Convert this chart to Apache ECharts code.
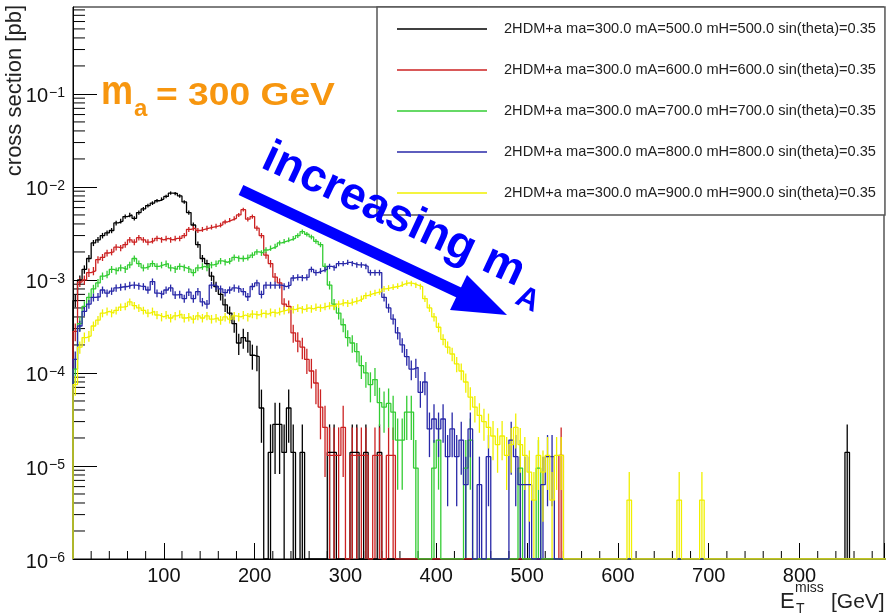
<!DOCTYPE html>
<html><head><meta charset="utf-8">
<script src="https://cdn.jsdelivr.net/npm/echarts@6/dist/echarts.min.js"></script>
<style>html,body{margin:0;padding:0;background:#fff}#c{width:887px;height:613px}</style>
</head><body><div id="c"></div>
<script>
// ---------------- DATA (cross section per 5 GeV bin, in units of 1e-5 pb) ----------------
const BIN = 5;            // GeV bin width
const UNIT = 1e-5;        // pb per unit below
const XMAX = 893, YMIN = 1e-6, YMAX = 0.86;

const names = [
  '2HDM+a ma=300.0 mA=500.0 mH=500.0 sin(theta)=0.35',
  '2HDM+a ma=300.0 mA=600.0 mH=600.0 sin(theta)=0.35',
  '2HDM+a ma=300.0 mA=700.0 mH=700.0 sin(theta)=0.35',
  '2HDM+a ma=300.0 mA=800.0 mH=800.0 sin(theta)=0.35',
  '2HDM+a ma=300.0 mA=900.0 mH=900.0 sin(theta)=0.35'
];
const colors = ['#000000', '#cc2222', '#33cc33', '#2828a8', '#f0f000'];
// per-event weight of each sample (units of 1e-5 pb), sets the sqrt(N) error bars
const eventWeight = [1.4, 1.3, 0.95, 0.63, 0.43];

const black = [
  60,100,130,170,250,270,300,320,340,410,
  430,480,500,460,530,580,630,670,710,740,
  790,860,850,800,690,530,390,240,170,150,
  110,85,70,54,44,34,21,24,22,15.5,
  15,4.2,0,1.4,2.8,2.8,1.4,4.2,1.4,0,
  1.4,0,0,0,0,0,1.4,1.4,0,0,
  0,1.4,1.4,0,1.4,0,0,1.4
];
const blackTail = [[850, 1.4]];

const red = [
  28,95,100,120,125,165,175,195,200,225,
  220,240,270,255,285,270,255,265,280,270,
  280,270,280,280,300,350,360,340,350,360,
  370,380,390,420,440,460,500,570,450,480,
  360,300,185,150,107,93,55,52,27,22,
  19,14,10.5,7.8,4.3,2.6,1.3,1.3,1.3,2.6,
  0,1.3,1.3,1.3,1.3,0,1.3,1.3,0,1.3,1.3
];
const redTail = [[535, 1.3]];

const green = [
  11,34,52,65,80,93,110,115,130,125,
  135,130,145,170,150,135,140,150,140,145,
  150,135,130,140,135,130,120,135,140,135,
  145,150,160,155,160,175,170,170,175,185,
  200,195,210,220,230,250,260,270,280,300,
  330,310,290,260,240,140,88,55,44,33,
  24,21,17,12,10,7.5,8.5,4.8,4.3,4.7,
  3.8,1.9,1.9,3.8,3.8,0.95,0,0,0,0.95,
  1.9,0,0,0,0,0,0.95,1.9,0,0,
  0,0,0,0,0,0,0,0,0.95,0,
  0,0,0.95
];
const greenTail = [];

const blue = [
  14,32,46,55,65,66,78,72,76,82,
  84,85,88,88,86,85,78,96,72,70,
  78,82,69,70,63,74,63,75,58,55,
  88,85,80,73,78,82,80,75,66,85,
  93,70,88,88,88,88,85,88,105,107,
  105,107,130,120,125,130,140,135,150,150,
  155,150,145,145,140,120,120,120,65,50,
  38,27,20,15,11,11.5,6.2,8.0,2.5,3.2,
  2.5,3.2,1.26,2.5,1.26,1.9,0.63,2.5,0,0.63,
  0,1.26,0,0,0,0,1.9,1.26,0.63,0.63,
  0.63,0,0,0.63,1.26,1.26
];
const blueTail = [];

const yellow = [
  7.5,19,24,25,32,37,44,46,44,47,
  51,52,58,53,50,47,44,46,42,40,
  42,39,41,43,39,40,38,41,39,41,
  38,39,37,40,38,41,40,42,40,43,
  42,44,43,45,44,46,47,49,48,50,
  48,50,49,51,50,52,53,52,55,57,
  56,58,60,63,68,71,73,75,80,82,
  84,86,90,93,92,88,85,63,50,40,
  31,23,19,16,12.5,10.5,8.0,5.5,4.3,3.5,
  3.0,2.6,2.1,1.7,2.1,1.3,1.7,2.6,1.7,1.3,
  0.86,0.43,1.3,0.86,1.3,0.43,1.3,1.3
];
const yellowTail = [[610, 0.43], [665, 0.43], [690, 0.43]];

const xTickLabels = [100, 200, 300, 400, 500, 600, 700, 800];

// ---------------- BUILD ----------------
const F = '"Liberation Sans", Arial, sans-serif';
const samples = [[black, blackTail], [red, redTail], [green, greenTail], [blue, blueTail], [yellow, yellowTail]];
const NB = Math.ceil(XMAX / BIN);

function binArray(vals, tail) {
  const a = new Array(NB).fill(0);
  vals.forEach((v, i) => { a[i] = v; });
  tail.forEach(([x, v]) => { a[Math.round(x / BIN)] = v; });
  return a;
}
function stepPoints(arr) {
  const pts = [[0, YMIN]];
  arr.forEach((v, i) => {
    const y = v > 0 ? v * UNIT : YMIN;
    pts.push([i * BIN, y], [(i + 1) * BIN, y]);
  });
  return pts;
}
function errPoints(arr, w) {
  const out = [];
  arr.forEach((v, i) => {
    if (v <= 0) return;
    const e = Math.sqrt(v * w);
    out.push([i * BIN + BIN / 2, v * UNIT, Math.max((v - e) * UNIT, YMIN), (v + e) * UNIT]);
  });
  return out;
}

const series = [];
// minor ticks (ROOT style, inside)
const xMinor = [];
for (let t = 20; t < XMAX; t += 20) if (t % 100 !== 0) xMinor.push([t, YMIN]);
const yMinor = [];
for (let n = -6; n <= -1; n++) for (let k = 2; k <= 9; k++) { const v = k * Math.pow(10, n); if (v < YMAX) yMinor.push([0, v]); }
series.push({
  type: 'custom', silent: true, data: xMinor, z: 1,
  renderItem: (p, api) => { const c = api.coord([api.value(0), api.value(1)]);
    return { type: 'line', shape: { x1: c[0], y1: c[1], x2: c[0], y2: c[1] - 8 }, style: { stroke: '#000', lineWidth: 1 } }; }
});
series.push({
  type: 'custom', silent: true, data: yMinor, z: 1,
  renderItem: (p, api) => { const c = api.coord([api.value(0), api.value(1)]);
    return { type: 'line', shape: { x1: c[0], y1: c[1], x2: c[0] + 12, y2: c[1] }, style: { stroke: '#000', lineWidth: 1 } }; }
});

samples.forEach(([vals, tail], k) => {
  const arr = binArray(vals, tail);
  series.push({
    name: names[k], type: 'line', data: stepPoints(arr), showSymbol: false, symbol: 'none',
    color: colors[k], lineStyle: { color: colors[k], width: 1.3 }, clip: true, silent: true, z: 2
  });
  const col = colors[k];
  series.push({
    type: 'custom', data: errPoints(arr, eventWeight[k]), silent: true, z: 2, clip: true,
    renderItem: (p, api) => {
      const x = api.value(0);
      const a = api.coord([x, api.value(2)]), b = api.coord([x, api.value(3)]);
      return { type: 'line', shape: { x1: a[0], y1: a[1], x2: b[0], y2: b[1] }, style: { stroke: col, lineWidth: 1.3 } };
    }
  });
});

const option = {
  animation: false,
  backgroundColor: '#fff',
  grid: { left: 73, right: 2, top: 7, bottom: 54, show: true, borderColor: '#000', borderWidth: 1, backgroundColor: 'transparent' },
  xAxis: {
    type: 'value', min: 0, max: XMAX, interval: 100,
    axisLine: { show: true, onZero: false, lineStyle: { color: '#000', width: 1 } },
    axisTick: { show: true, inside: true, length: 16, lineStyle: { color: '#000', width: 1 } },
    axisLabel: { margin: 7, fontSize: 20, fontFamily: F, color: '#111',
      formatter: v => (xTickLabels.indexOf(v) >= 0 ? String(v) : '') },
    splitLine: { show: false }
  },
  yAxis: {
    type: 'log', logBase: 10, min: YMIN, max: YMAX,
    axisLine: { show: true, lineStyle: { color: '#000', width: 1 } },
    axisTick: { show: true, inside: true, length: 24, lineStyle: { color: '#000', width: 1 } },
    axisLabel: {
      margin: 8, showMaxLabel: false,
      formatter: v => { const l = Math.log10(v); const n = Math.round(l);
        if (Math.abs(l - n) > 1e-6) return ''; return '{b|10}{s|\u2212' + (-n) + '}'; },
      rich: {
        b: { fontSize: 20, fontFamily: F, color: '#111', lineHeight: 20, padding: [6, 0, 0, 0] },
        s: { fontSize: 14, fontFamily: F, color: '#111', lineHeight: 14, verticalAlign: 'top', padding: [2, 0, 0, 1] }
      }
    },
    splitLine: { show: false }, minorTick: { show: false }
  },
  legend: {
    data: names, orient: 'vertical', left: 377, top: 7, selectedMode: false,
    icon: 'rect', itemWidth: 90, itemHeight: 1.5, itemGap: 21,
    padding: [12, 9, 12, 20], borderColor: '#555', borderWidth: 1.5, backgroundColor: '#fff',
    textStyle: { fontSize: 14.6, fontFamily: F, color: '#222', lineHeight: 20, padding: [0, 0, 0, 12] }
  },
  graphic: [
    { type: 'text', x: 15, y: 5, rotation: Math.PI / 2, z: 50,
      style: { text: 'cross section [pb]', font: '22px ' + F, fill: '#222', align: 'right', verticalAlign: 'middle' } },
    { type: 'text', x: 780, y: 610 - 0.35 * 22, z: 50, style: { text: 'E', font: '22px ' + F, fill: '#222', verticalAlign: 'middle' } },
    { type: 'text', x: 796, y: 614 - 0.35 * 14, z: 50, style: { text: 'T', font: '14px ' + F, fill: '#222', verticalAlign: 'middle' } },
    { type: 'text', x: 795, y: 593 - 0.35 * 14, z: 50, style: { text: 'miss', font: '14px ' + F, fill: '#222', verticalAlign: 'middle' } },
    { type: 'text', x: 831, y: 610 - 0.35 * 21, z: 50, style: { text: '[GeV]', font: '21px ' + F, fill: '#222', verticalAlign: 'middle' } },
    // annotation: m_a = 300 GeV
    { type: 'text', x: 101, y: 107 - 0.35 * 40, z: 60, scaleX: 0.9,
      style: { text: 'm', font: 'bold 40px ' + F, fill: '#f7960f', verticalAlign: 'middle' } },
    { type: 'text', x: 134, y: 118 - 0.35 * 24, z: 60,
      style: { text: 'a', font: 'bold 24px ' + F, fill: '#f7960f', verticalAlign: 'middle' } },
    { type: 'text', x: 156, y: 107 - 0.35 * 31, z: 60, scaleX: 1.2,
      style: { text: '= 300 GeV', font: 'bold 31px ' + F, fill: '#f7960f', verticalAlign: 'middle' } },
    // arrow
    { type: 'line', z: 60, shape: { x1: 241, y1: 190, x2: 462, y2: 294 }, style: { stroke: '#0000ff', lineWidth: 11, lineCap: 'butt' } },
    { type: 'polygon', z: 60, shape: { points: [[507, 315], [467, 275], [450, 310]] }, style: { fill: '#0000ff' } },
    // increasing m_A
    { type: 'group', x: 258, y: 170, rotation: -0.435, z: 60, children: [
      { type: 'text', x: 0, y: -0.35 * 46, z: 60, style: { text: 'increasing m', font: 'bold 46px ' + F, fill: '#0000ff', verticalAlign: 'middle' } },
      { type: 'text', x: 288, y: 15 - 0.35 * 31, z: 60, style: { text: 'A', font: 'bold 31px ' + F, fill: '#0000ff', verticalAlign: 'middle' } }
    ] }
  ],
  series: series
};

const chart = echarts.init(document.getElementById('c'), null, { renderer: 'canvas', width: 887, height: 613 });
chart.setOption(option);
</script>
</body></html>
